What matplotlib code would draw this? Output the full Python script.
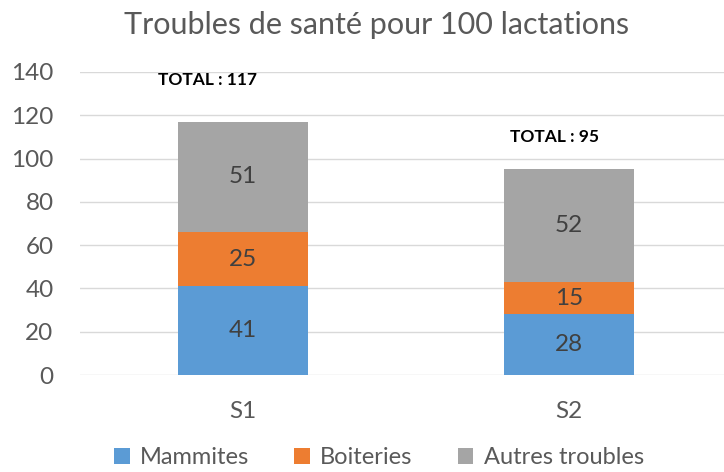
import matplotlib
matplotlib.use("Agg")
import matplotlib.pyplot as plt
import numpy as np

categories = ["S1", "S2"]
series_names = ["Mammites", "Boiteries", "Autres troubles"]
mammites = [41, 28]
boiteries = [25, 15]
autres = [51, 52]
colors = ["#5B9BD5", "#ED7D31", "#A5A5A5"]
title = "Troubles de santé pour 100 lactations"
yticks = [0, 20, 40, 60, 80, 100, 120, 140]

plt.rcParams['font.family'] = ['Lato', 'DejaVu Sans']

fig = plt.figure(figsize=(7.24, 4.72), dpi=100)
ax = fig.add_axes([80/724, 1-375/472, 1-80/724, (375-72)/472])

x = np.arange(len(categories))
bottom = np.zeros(len(categories))
for name, vals, col in zip(series_names, [mammites, boiteries, autres], colors):
    ax.bar(x, vals, width=0.4, bottom=bottom, color=col, label=name, zorder=2)
    for xi, b, v in zip(x, bottom, vals):
        ax.text(xi, b + v/2, str(v), ha='center', va='center', fontsize=17.5, color='#404040')
    bottom = bottom + np.array(vals)

totals = bottom
# text-box positions (offsets relative to bars)
offsets = [(-0.11, 136.5), (-0.045, 110)]
for xi, t, (dx, yy) in zip(x, totals, offsets):
    ax.text(xi + dx, yy, f"TOTAL : {int(t)}", ha='center', va='center',
            fontsize=12.5, fontweight='bold', color='black')

ax.set_ylim(0, 140)
ax.set_xlim(-0.5, 1.475)
ax.set_yticks(yticks)
ax.set_yticklabels([str(v) for v in yticks])
ax.set_xticks(x)
ax.set_xticklabels(categories)
ax.tick_params(axis='both', length=0, labelsize=17.5, labelcolor='#595959')
ax.tick_params(axis='y', pad=19)
ax.tick_params(axis='x', pad=19)
ax.grid(axis='y', color='#D9D9D9', linewidth=1, zorder=0)
for s in ax.spines.values():
    s.set_visible(False)

fig.text(377/724, 1-25/472, title, ha='center', va='center', fontsize=22, color='#595959')

fig.legend(loc='center', bbox_to_anchor=(379/724, 1-458/472), ncol=3, frameon=False,
           fontsize=17, handlelength=0.65, handleheight=0.65, handletextpad=0.45,
           columnspacing=1.9, labelcolor='#595959')

fig.savefig("out.png", dpi=100)
